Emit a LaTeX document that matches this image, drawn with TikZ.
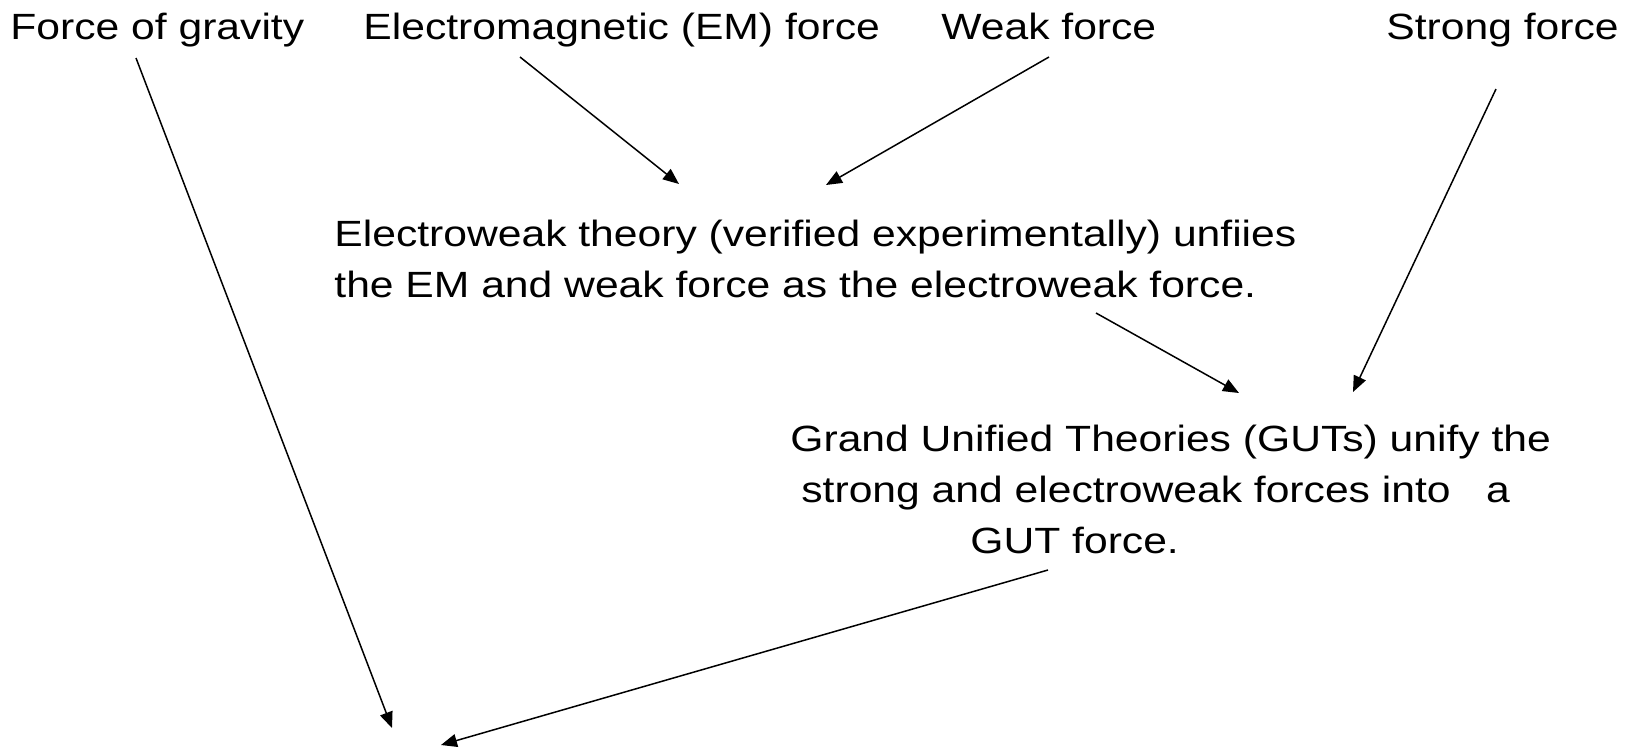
\documentclass[tikz,border=0pt]{standalone}
\usepackage{fontspec}
\setmainfont{Liberation Sans}[FakeStretch=1.168]
\usetikzlibrary{arrows.meta}

\begin{document}
\begin{tikzpicture}[x=0.5pt,y=-0.5pt,
        lbl/.style={anchor=base west,inner sep=0pt,font=\fontsize{18.25pt}{25.3pt}\selectfont},
        arr/.style={-{Triangle[length=8pt,width=6.5pt]},line width=0.75pt}]
        \useasboundingbox (0,0) rectangle (1630,751);

        \node[lbl] (grav) at (10,39) {Force of gravity};
        \node[lbl] (em) at (363,39) {Electromagnetic (EM) force};
        \node[lbl] (weak) at (941,39) {Weak force};
        \node[lbl] (strong) at (1386,39) {Strong force};

        \node[lbl,align=left] (ew) at (334,297) {Electroweak theory (verified experimentally) unfiies\\the EM and weak force as the electroweak force.};
        \node[lbl,align=left] (gut) at (790,553) {Grand Unified Theories (GUTs) unify the\\\hspace*{5.5pt}strong and electroweak forces into\ \ \ a\\\hspace*{90pt}GUT force.};

        \coordinate (gravS) at (136,58);
        \coordinate (emS) at (520,57);
        \coordinate (weakS) at (1049,57);
        \coordinate (strongS) at (1496,89);
        \coordinate (ewS) at (1096,313);
        \coordinate (gutS) at (1048,570);
        \coordinate (ewE) at (679,184);
        \coordinate (ewW) at (826,185);
        \coordinate (gutA) at (1239,393);
        \coordinate (gutB) at (1353,392);
        \coordinate (endG) at (392,728);
        \coordinate (endU) at (441,745);

        \draw[arr](gravS)--(endG);
        \draw[arr](emS)--(ewE);
        \draw[arr](weakS)--(ewW);
        \draw[arr](strongS)--(gutB);
        \draw[arr](ewS)--(gutA);
        \draw[arr](gutS)--(endU);
    \end{tikzpicture}
\end{document}
